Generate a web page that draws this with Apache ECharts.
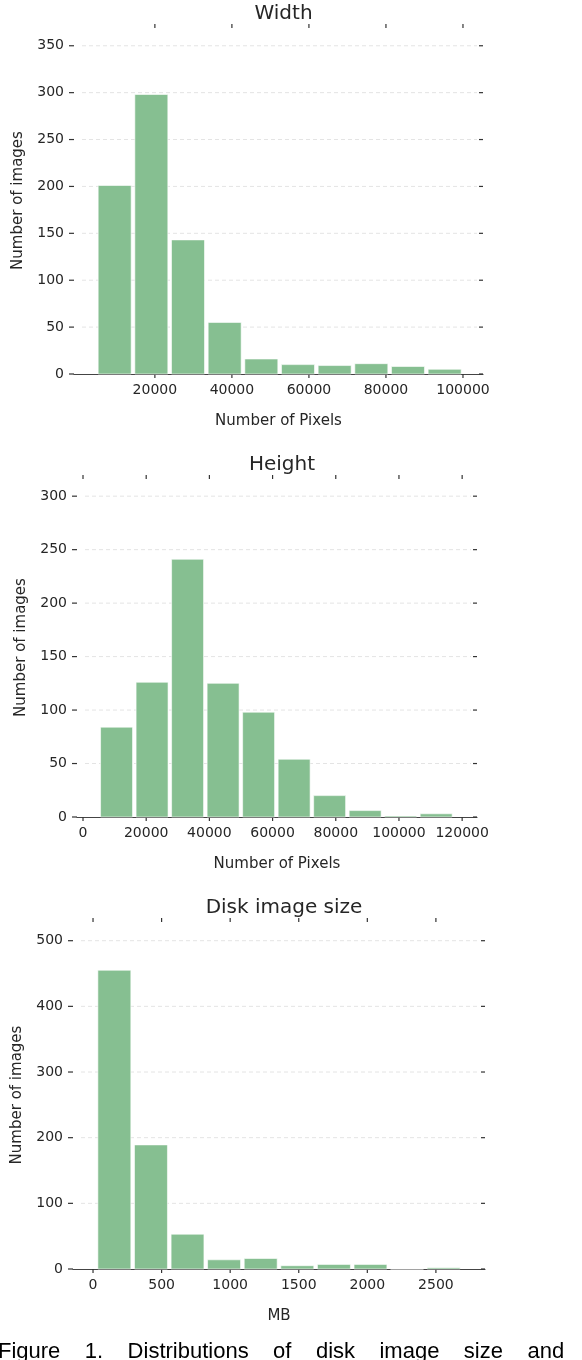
<!DOCTYPE html>
<html>
<head>
<meta charset="utf-8">
<script src="https://cdn.jsdelivr.net/npm/echarts@6/dist/echarts.min.js"></script>
<style>
  html, body { margin: 0; padding: 0; background: #fff; }
  #chart { width: 582px; height: 1360px; }
</style>
</head>
<body>
<div id="chart"></div>
<script>
// histogram bin edges and counts
var widthEdges = [4800, 14320, 23840, 33360, 42880, 52400, 61920, 71440, 80960, 90480, 100000];
var widthCounts = [201, 298, 143, 55, 16, 10, 9, 11, 8, 5];
var widthTicks = [20000, 40000, 60000, 80000, 100000];

var heightEdges = [5000, 16240, 27480, 38720, 49960, 61200, 72440, 83680, 94920, 106160, 117400];
var heightCounts = [84, 126, 241, 125, 98, 54, 20, 6, 1, 3];
var heightTicks = [0, 20000, 40000, 60000, 80000, 100000, 120000];

var diskEdges = [22, 289, 556, 822, 1089, 1356, 1623, 1890, 2156, 2423, 2690];
var diskCounts = [455, 189, 53, 14, 16, 5, 7, 7, 0, 2];
var diskTicks = [0, 500, 1000, 1500, 2000, 2500];

var widthYTicks = [0, 50, 100, 150, 200, 250, 300, 350];
var heightYTicks = [0, 50, 100, 150, 200, 250, 300];
var diskYTicks = [0, 100, 200, 300, 400, 500];

var GREEN = '#86bf91';
var TXT = '#262626';
var FONT = 'DejaVu Sans';

function binData(edges, counts) {
  return counts.map(function (c, i) {
    return [edges[i], edges[i + 1], c];
  });
}

function renderBar(params, api) {
  var x0 = api.value(0), x1 = api.value(1), y = api.value(2);
  var w = x1 - x0;
  var pad = w * 0.05;
  var p0 = api.coord([x0 + pad, y]);
  var p1 = api.coord([x1 - pad, 0]);
  return {
    type: 'rect',
    shape: { x: p0[0], y: p0[1], width: p1[0] - p0[0], height: p1[1] - p0[1] },
    style: { fill: GREEN, stroke: '#fff', lineWidth: 0.6 }
  };
}

var panels = [
  { title: 'Width', name: 'Number of Pixels', edges: widthEdges, counts: widthCounts, xt: widthTicks,
    yt: widthYTicks, xmin: -1000, xmax: 105200, ymax: 370, grid: { left: 74, width: 409, top: 27, height: 347 } },
  { title: 'Height', name: 'Number of Pixels', edges: heightEdges, counts: heightCounts, xt: heightTicks,
    yt: heightYTicks, xmin: -1900, xmax: 124700, ymax: 317, grid: { left: 77, width: 400, top: 478, height: 339 } },
  { title: 'Disk image size', name: 'MB', edges: diskEdges, counts: diskCounts, xt: diskTicks,
    yt: diskYTicks, xmin: -146, xmax: 2858, ymax: 530, grid: { left: 73, width: 412, top: 921, height: 348 } }
];

var option = {
  animation: false,
  backgroundColor: '#fff',
  title: [], grid: [], xAxis: [], yAxis: [], series: [],
  graphic: [{
    type: 'text', left: -2, top: 1341,
    style: { text: 'Figure    1.    Distributions    of    disk    image    size    and', fill: '#000', font: '22px "Liberation Sans"' }
  }]
};

function tickLine(x1, y1, x2, y2, w) {
  return { type: 'line', shape: { x1: x1, y1: y1, x2: x2, y2: y2 }, style: { stroke: '#333', lineWidth: w || 1 } };
}

panels.forEach(function (p, i) {
  var g = p.grid;
  option.grid.push(g);
  option.title.push({
    text: p.title, left: g.left + g.width / 2, textAlign: 'center', top: g.top - 28,
    textStyle: { fontFamily: FONT, fontSize: 20, fontWeight: 'normal', color: TXT }
  });
  option.xAxis.push({
    type: 'value', gridIndex: i, min: p.xmin, max: p.xmax,
    name: p.name, nameLocation: 'middle', nameGap: 40,
    nameTextStyle: { fontFamily: FONT, fontSize: 15, color: TXT },
    axisLine: { show: true, lineStyle: { color: '#444', width: 1.2 } },
    axisTick: { show: false },
    axisLabel: { customValues: p.xt, fontFamily: FONT, fontSize: 14, color: TXT, margin: 9,
      formatter: function (v) { return String(v); } },
    splitLine: { show: false }
  });
  option.yAxis.push({
    type: 'value', gridIndex: i, min: 0, max: p.ymax,
    name: 'Number of images', nameLocation: 'middle', nameGap: 48,
    nameTextStyle: { fontFamily: FONT, fontSize: 15, color: TXT },
    axisLine: { show: false },
    axisTick: { show: false },
    axisLabel: { customValues: p.yt, fontFamily: FONT, fontSize: 14, color: TXT, margin: 10,
      formatter: function (v) { return String(v); } },
    splitLine: { show: false }
  });
  // dashed grid lines plus the short ticks on all four sides
  option.series.push({
    type: 'custom', xAxisIndex: i, yAxisIndex: i, silent: true, z: 1,
    data: [[0]],
    renderItem: function (params, api) {
      var kids = [];
      p.yt.forEach(function (v) {
        var y = api.coord([p.xmin, v])[1];
        if (v > 0) {
          kids.push({ type: 'line', shape: { x1: g.left + 8, y1: y, x2: g.left + g.width - 6, y2: y },
            style: { stroke: '#e4e4e4', lineWidth: 1, lineDash: [4, 3] } });
        }
        kids.push(tickLine(g.left - 5, y, g.left, y, 1.2));
        kids.push(tickLine(g.left + g.width - 4, y, g.left + g.width, y, 1.2));
      });
      p.xt.forEach(function (v) {
        var x = api.coord([v, 0])[0];
        kids.push(tickLine(x, g.top + g.height, x, g.top + g.height + 4, 1.2));
        kids.push(tickLine(x, g.top - 3, x, g.top + 1, 1.2));
      });
      return { type: 'group', children: kids };
    }
  });
  option.series.push({
    type: 'custom', xAxisIndex: i, yAxisIndex: i, z: 2,
    data: binData(p.edges, p.counts),
    encode: { x: [0, 1], y: 2 },
    renderItem: renderBar
  });
});

var chart = echarts.init(document.getElementById('chart'));
chart.setOption(option);
</script>
</body>
</html>
